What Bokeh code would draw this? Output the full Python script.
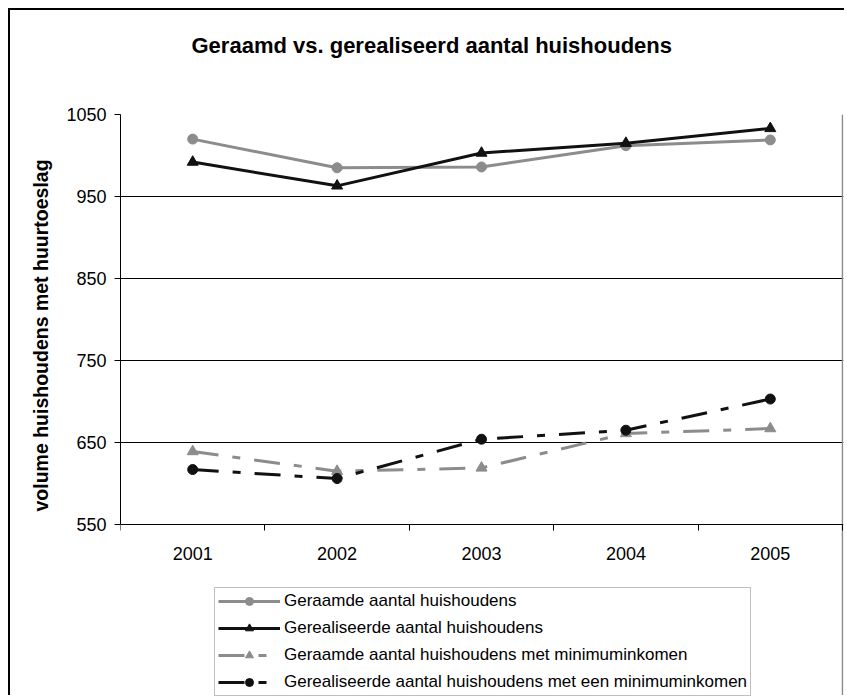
from bokeh.plotting import figure
from bokeh.models import Range1d, FixedTicker, Legend, LegendItem, Title, LinearAxis, Grid
from bokeh.embed import file_html
from bokeh.resources import INLINE

years = [2001, 2002, 2003, 2004, 2005]
geraamd = [1020, 985, 986, 1012, 1019]
gerealiseerd = [992, 963, 1003, 1015, 1033]
geraamd_min = [639, 615, 619, 661, 667]
gerealiseerd_min = [617, 606, 654, 665, 703]
y_ticks = [550, 650, 750, 850, 950, 1050]
labels = [
    "Geraamde aantal huishoudens",
    "Gerealiseerde aantal huishoudens",
    "Geraamde aantal huishoudens met minimuminkomen",
    "Gerealiseerde aantal huishoudens met een minimuminkomen",
]

GRAY = "#8c8c8c"
BLACK = "#111111"
FONT = "Liberation Sans"

W, H = 836, 687
LEFT, TOP, RIGHT = 110, 104, 3
frame_w = W - LEFT - RIGHT
frame_h = H - TOP
px_per_unit = 410 / (y_ticks[-1] - y_ticks[0])
x_lo, x_hi = years[0] - 0.5, years[-1] + 0.5
x_end = x_hi + 1.0 / (frame_w / (x_hi - x_lo))
y_start = y_ticks[-1] - frame_h / px_per_unit

p = figure(width=W, height=H, output_backend="svg", toolbar_location=None,
           x_range=Range1d(x_lo, x_end), y_range=Range1d(y_start, y_ticks[-1]),
           min_border_left=LEFT, min_border_right=RIGHT, min_border_top=TOP, min_border_bottom=0,
           background_fill_color="white", border_fill_color="white")
p.styles = {"margin-left": "8px", "margin-top": "8px",
            "border-left": "2px solid black", "border-top": "2px solid black"}

xa = p.xaxis[0]
ya = p.yaxis[0]

spacer = LinearAxis(ticker=FixedTicker(ticks=[years[2]], minor_ticks=[]),
                    major_label_overrides={years[2]: ""},
                    major_tick_out=52, major_tick_in=0, minor_tick_out=0, minor_tick_in=0,
                    axis_line_color=None, major_tick_line_color=None,
                    minor_tick_line_color=None, major_label_standoff=0)
p.add_layout(spacer, "above")
p.title = Title(text="Geraamd vs. gerealiseerd aantal huishoudens", align="left", offset=71,
                text_font=FONT, text_font_size="22px", text_font_style="bold",
                text_color="black", standoff=10)

p.outline_line_color = None

p.xgrid.visible = False
p.ygrid.ticker = FixedTicker(ticks=y_ticks[1:-1])
p.ygrid.grid_line_color = "black"
p.ygrid.grid_line_width = 1
p.add_layout(Grid(dimension=1, ticker=FixedTicker(ticks=[y_ticks[-1]]),
                  grid_line_color="#8a8a8a", grid_line_width=1.5))
p.add_layout(Grid(dimension=0, ticker=FixedTicker(ticks=[x_hi]), bounds=(y_ticks[0], y_ticks[-1]),
                  grid_line_color="#8a8a8a", grid_line_width=1.5))

xa.fixed_location = y_ticks[0]
xa.ticker = FixedTicker(ticks=years, minor_ticks=[y - 0.5 for y in years] + [x_hi])
xa.major_tick_out = 0
xa.major_tick_in = 0
xa.minor_tick_out = 6
xa.minor_tick_in = 0
xa.minor_tick_line_color = "black"
xa.axis_line_color = "black"
xa.major_label_standoff = 16
xa.major_label_text_font = FONT
xa.major_label_text_font_size = "18px"
xa.major_label_text_color = "black"

ya.ticker = FixedTicker(ticks=y_ticks)
ya.bounds = (y_ticks[0], y_ticks[-1])
ya.minor_tick_line_color = None
ya.major_tick_out = 6
ya.major_tick_in = 0
ya.major_tick_line_color = "black"
ya.axis_line_color = "black"
ya.major_label_standoff = 8
ya.major_label_text_font = FONT
ya.major_label_text_font_size = "18px"
ya.major_label_text_color = "black"

p.add_layout(Title(text="volume huishoudens met huurtoeslag", align="left", offset=186,
                   text_font=FONT, text_font_size="19.5px", text_font_style="bold",
                   text_color="black", standoff=24), "left")

l1 = p.line(years, geraamd, line_color=GRAY, line_width=3)
s1 = p.scatter(years, geraamd, marker="circle", size=10, fill_color=GRAY, line_color=GRAY)
l2 = p.line(years, gerealiseerd, line_color=BLACK, line_width=3)
s2 = p.scatter(years, gerealiseerd, marker="triangle", size=11, fill_color=BLACK, line_color=BLACK)
l3 = p.line(years, geraamd_min, line_color=GRAY, line_width=3, line_dash="26 14 8 14")
s3 = p.scatter(years, geraamd_min, marker="triangle", size=11, fill_color=GRAY, line_color=GRAY)
l4 = p.line(years, gerealiseerd_min, line_color=BLACK, line_width=3, line_dash="26 14 8 14")
s4 = p.scatter(years, gerealiseerd_min, marker="circle", size=10, fill_color=BLACK, line_color=BLACK)

legend = Legend(items=[
    LegendItem(label=labels[0], renderers=[l1, s1]),
    LegendItem(label=labels[1], renderers=[l2, s2]),
    LegendItem(label=labels[2], renderers=[l3, s3]),
    LegendItem(label=labels[3], renderers=[l4, s4]),
], location=(94, 1), orientation="vertical",
    label_text_font=FONT, label_text_font_size="17px", label_text_color="black",
    glyph_width=62, glyph_height=20, label_height=20, label_standoff=4,
    spacing=7, padding=3, margin=0,
    border_line_color="#808080", border_line_width=1,
    background_fill_color="white", background_fill_alpha=1)
p.add_layout(legend, "center")

open("out.html", "w").write(file_html(p, INLINE))
